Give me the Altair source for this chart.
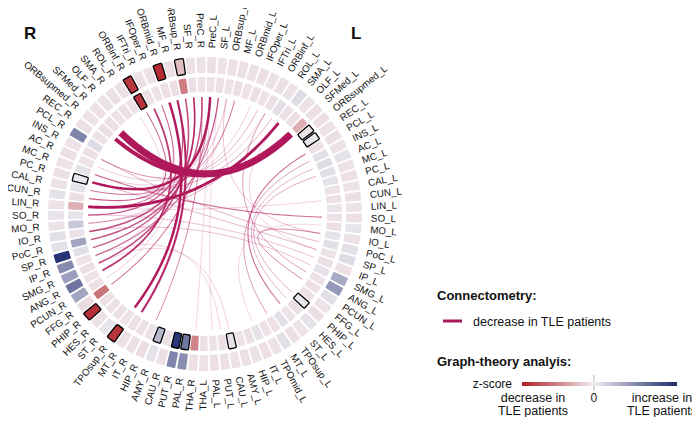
import math
import altair as alt
import pandas as pd

# ---------------- data ----------------
REGIONS_L = ["PreC", "SF", "ORBsup", "MF", "ORBmid", "IFOper", "IFTri", "ORBinf", "ROL", "SMA",
             "OLF", "SFMed", "ORBsupmed", "REC", "PCL", "INS", "AC", "MC", "PC", "CAL",
             "CUN", "LIN", "SO", "MO", "IO", "PoC", "SP", "IP", "SMG", "ANG",
             "PCUN", "FFG", "PHIP", "HES", "ST", "TPOsup", "MT", "TPOmid", "IT", "HIP",
             "AMY", "CAU", "PUT", "PAL", "THA"]
REGIONS_R = [r for r in REGIONS_L if r != "TPOmid"]   # TPOmid_R is not shown

# z-scores (graph theory), outer ring
outer_R = [-0.12, -0.15, -0.6, -0.15, -2.4, -0.12, -0.15, -2.25, -0.12, -0.15,
           -0.12, -0.15, -0.12, -0.15, 1.6, -0.12, -0.15, -0.12, -0.15, -0.12,
           0.15, -0.12, 0.12, -0.1, 0.2, 0.15, 2.85, 1.5, 1.2, 1.85,
           1.1, -0.2, -2.35, -0.12, 0.12, -2.3, -0.15, -0.15, -0.2, 0.15,
           -0.15, 1.6, 1.45, -0.15]
outer_L = [-0.15, -0.12, -0.15, -0.15, -0.12, -0.15, -0.12, -0.15, -0.12, 0.25,
           -0.12, -0.15, -0.15, -0.12, -0.15, -0.12, 0.15, -0.12, -0.15, -0.12,
           -0.15, -0.12, -0.15, 0.12, -0.12, 0.2, 0.25, -0.15, 1.0, 1.3,
           0.2, -0.12, -0.15, 0.15, -0.12, -0.15, 0.2, -0.12, -0.15, -0.12,
           -0.15, -0.12, -0.15, -0.15, -0.12]
# inner ring
inner_R = [-0.12, -0.15, -1.4, -0.15, -0.15, -0.12, -0.15, -2.3, -0.12, -0.15,
           -0.12, -0.15, -0.15, -0.12, 0.25, -0.15, -0.12, 0.15, 0.1, 0.15,
           -0.15, -0.75, 0.12, 0.55, -0.12, 1.1, 0.2, -0.12, -0.15, -0.12,
           -0.15, -1.5, -0.15, -0.12, -0.15, -0.12, -0.15, -0.15, -0.12, 0.8,
           -0.15, 2.8, 1.8, -1.3]
inner_L = [-0.12, -0.15, -0.12, -0.15, -0.12, -0.15, -0.12, -0.15, 0.2, -0.12,
           -0.15, -0.75, -0.1, 0.08, -0.15, 0.2, 0.25, 0.2, 0.15, -0.12,
           -0.15, 0.12, -0.12, -0.15, 0.15, 0.2, -0.12, -0.15, 0.15, -0.12,
           -0.15, -0.12, 0.1, -0.15, -0.12, 0.2, -0.15, -0.12, 0.15, -0.15,
           -0.12, 0.15, -0.15, -0.12, -0.15]
boxed_outer = ["ORBsup_R", "ORBmid_R", "ORBinf_R", "PHIP_R", "TPOsup_R"]
boxed_inner = ["ORBinf_R", "PC_R", "AMY_R", "PUT_R", "PAL_R", "ORBsupmed_L", "REC_L",
               "PHIP_L", "CAU_L"]

# connectometry chords (decrease in TLE): endpoints and relative strength
chord_a = ["SFMed_R", "ORBsupmed_R", "LIN_R", "PC_R", "ORBmid_R", "MF_R", "IFTri_R",
           "ORBsup_R", "SF_R", "PreC_R", "SF_R", "MF_R", "ORBinf_R", "IFOper_R",
           "SF_L", "PreC_L", "MF_L", "SMA_L", "ROL_L", "IFTri_L",
           "PCL_L", "INS_L", "AC_L", "MC_L", "IO_L", "SO_L", "PoC_L", "SP_L",
           "CAL_R", "CUN_R", "MO_R", "IO_R", "SO_R", "INS_R", "AC_R", "MC_R",
           "SMG_R", "IP_R", "ORBsup_L", "PreC_R",
           "PreC_L", "SF_L", "IFOper_R", "ROL_R", "ORBinf_L", "SMA_L", "MO_L", "CUN_L"]
chord_b = ["SFMed_L", "SFMed_L", "SMA_L", "PreC_L", "TPOsup_R", "MT_R", "ANG_R",
           "SMG_R", "IO_R", "PoC_R", "SP_R", "SO_R", "CUN_R", "LIN_R",
           "IP_R", "FFG_R", "CAL_R", "MO_R", "PC_R", "INS_R",
           "ST_L", "MT_L", "HES_L", "PHIP_L", "PCUN_L", "MC_R", "INS_R", "PC_R",
           "SF_L", "ORBsup_L", "MF_L", "SMG_L", "IP_L", "ORBinf_L", "SF_L", "IFOper_L",
           "CAU_L", "PUT_L", "IO_L", "HIP_R",
           "THA_R", "PAL_L", "PCUN_R", "IP_R", "ANG_L", "SP_L", "IT_L", "LIN_R"]
chord_w = [1.0, 0.72, 0.6, 0.55, 0.55, 0.5, 0.45,
           0.4, 0.4, 0.38, 0.35, 0.35, 0.3, 0.28,
           0.3, 0.28, 0.22, 0.2, 0.2, 0.18,
           0.3, 0.22, 0.18, 0.2, 0.25, 0.3, 0.18, 0.18,
           0.15, 0.15, 0.15, 0.15, 0.15, 0.12, 0.12, 0.12,
           0.1, 0.1, 0.15, 0.25,
           0.08, 0.08, 0.12, 0.1, 0.22, 0.1, 0.08, 0.1]

# ---------------- geometry ----------------
CX, CY = 205, 214          # page pixels of circle centre
R_IN = (122, 137)
R_OUT = (141, 157)
R_LAB = 166
R_CHORD = 117
ROT = 0.5
STEP = 360.0 / (len(REGIONS_L) + len(REGIONS_R))
HALF = STEP * 0.41


def phi(name):
    reg, hemi = name.rsplit("_", 1)
    if hemi == "L":
        return ROT + (REGIONS_L.index(reg) + 0.5) * STEP
    return ROT - (REGIONS_R.index(reg) + 0.5) * STEP


cells = []
for hemi, regs, vo, vi in (("R", REGIONS_R, outer_R, inner_R),
                           ("L", REGIONS_L, outer_L, inner_L)):
    for i, reg in enumerate(regs):
        name = f"{reg}_{hemi}"
        p = phi(name) % 360
        for ring, vals, rr, boxes in (("outer", vo, R_OUT, boxed_outer),
                                      ("inner", vi, R_IN, boxed_inner)):
            cells.append(dict(name=name, ring=ring, z=vals[i],
                              t0=math.radians(p - HALF), t1=math.radians(p + HALF),
                              r0=rr[0], r1=rr[1], boxed=name in boxes))
cells = pd.DataFrame(cells)

labels = []
for hemi, regs in (("R", REGIONS_R), ("L", REGIONS_L)):
    for reg in regs:
        name = f"{reg}_{hemi}"
        p = phi(name) % 360
        right = p < 180
        ang = (p - 90) if right else (p - 270)
        labels.append(dict(text=name, side="right" if right else "left",
                           x=CX + R_LAB * math.sin(math.radians(p)),
                           y=CY - R_LAB * math.cos(math.radians(p)),
                           angle=ang % 360))
labels = pd.DataFrame(labels)

rows = []
for cid, (a, b, w) in enumerate(zip(chord_a, chord_b, chord_w)):
    pa, pb = math.radians(phi(a)), math.radians(phi(b))
    x0, y0 = CX + R_CHORD * math.sin(pa), CY - R_CHORD * math.cos(pa)
    x2, y2 = CX + R_CHORD * math.sin(pb), CY - R_CHORD * math.cos(pb)
    n = 48
    for s in range(n + 1):
        t = s / n
        x = (1 - t) ** 2 * x0 + 2 * (1 - t) * t * CX + t ** 2 * x2
        y = (1 - t) ** 2 * y0 + 2 * (1 - t) * t * CY + t ** 2 * y2
        rows.append(dict(cid=cid, s=s, x=x, y=y, w=0.5 + 6.5 * w ** 2,
                         op=0.2 + 0.8 * min(1, w * 1.8)))
chords = pd.DataFrame(rows)

# ---------------- chart ----------------
W, H = 684, 409
xs = alt.Scale(domain=[8, 8 + W], nice=False, zero=False)
ys = alt.Scale(domain=[8, 8 + H], nice=False, zero=False, reverse=True)
FONT = "Liberation Sans"

color_scale = alt.Scale(domain=[-2.6, 0, 3.0], range=["#b01c24", "#f0ecf0", "#1c2a6e"],
                        interpolate="rgb")

cell_layer = alt.Chart(cells).mark_arc(cornerRadius=1).encode(
    x=alt.value(CX - 8), y=alt.value(CY - 8),
    theta=alt.Theta("t0:Q", scale=None), theta2="t1:Q",
    radius=alt.Radius("r1:Q", scale=None), radius2="r0:Q",
    fill=alt.Fill("z:Q", scale=color_scale,
                  legend=alt.Legend(orient="none", legendX=514, legendY=374,
                                    direction="horizontal", title=None,
                                    gradientLength=155, gradientThickness=4,
                                    values=[0], labelFontSize=12, labelFont=FONT,
                                    labelColor="#222", labelOffset=7)),
)
box_layer = alt.Chart(cells).transform_filter("datum.boxed").mark_arc(
    cornerRadius=1, filled=False, stroke="black", strokeWidth=1.3).encode(
    x=alt.value(CX - 8), y=alt.value(CY - 8),
    theta=alt.Theta("t0:Q", scale=None), theta2="t1:Q",
    radius=alt.Radius("r1:Q", scale=None), radius2="r0:Q",
)

chord_layer = alt.Chart(chords).mark_line(color="#b0185c", strokeCap="butt").encode(
    x=alt.X("x:Q", scale=xs, axis=None),
    y=alt.Y("y:Q", scale=ys, axis=None),
    detail="cid:N", order="s:Q",
    strokeWidth=alt.StrokeWidth("w:Q", scale=None),
    opacity=alt.Opacity("op:Q", scale=None),
)

lab_r = alt.Chart(labels).transform_filter("datum.side == 'right'").mark_text(
    align="left", baseline="middle", font=FONT, fontSize=9.8, color="#111").encode(
    x=alt.X("x:Q", scale=xs, axis=None), y=alt.Y("y:Q", scale=ys, axis=None),
    text="text:N", angle=alt.Angle("angle:Q", scale=None))
lab_l = alt.Chart(labels).transform_filter("datum.side == 'left'").mark_text(
    align="right", baseline="middle", font=FONT, fontSize=9.8, color="#111").encode(
    x=alt.X("x:Q", scale=xs, axis=None), y=alt.Y("y:Q", scale=ys, axis=None),
    text="text:N", angle=alt.Angle("angle:Q", scale=None))


def txt(s, x, y, size=12, bold=False, align="left"):
    return alt.Chart(pd.DataFrame({"t": [s]})).mark_text(
        align=align, baseline="alphabetic", font=FONT, fontSize=size,
        fontWeight="bold" if bold else "normal", color="#111").encode(
        text="t:N", x=alt.value(x - 8), y=alt.value(y - 8))


annot = [
    txt("R", 24, 39, 17, True),
    txt("L", 351, 39, 17, True),
    txt("Connectometry:", 437, 300, 13, True),
    txt("decrease in TLE patients", 473, 326, 12.5),
    txt("Graph-theory analyis:", 437, 366, 13, True),
    txt("z-score", 512, 388, 12, align="right"),
    txt("decrease in", 533, 402, 12.5, align="center"),
    txt("TLE patients", 533, 415, 12.5, align="center"),
    txt("increase in", 662, 402, 12.5, align="center"),
    txt("TLE patients", 662, 415, 12.5, align="center"),
]
leg_line = alt.Chart(pd.DataFrame({"v": [0]})).mark_rule(
    color="#a8185a", strokeWidth=3).encode(
    x=alt.value(443 - 8), x2=alt.value(462 - 8), y=alt.value(321 - 8))
zero_tick = alt.Chart(pd.DataFrame({"v": [0]})).mark_rule(
    color="#b5b5b5", strokeWidth=1).encode(
    x=alt.value(594 - 8), y=alt.value(375 - 8), y2=alt.value(391 - 8))

chart = alt.layer(chord_layer, cell_layer, box_layer, lab_r, lab_l, leg_line, zero_tick,
                  *annot).properties(
    width=W, height=H, padding=0, autosize=alt.AutoSizeParams(type="none")
).configure_view(stroke=None)

chart.save("out.html", embed_options={"renderer": "svg", "actions": False})
